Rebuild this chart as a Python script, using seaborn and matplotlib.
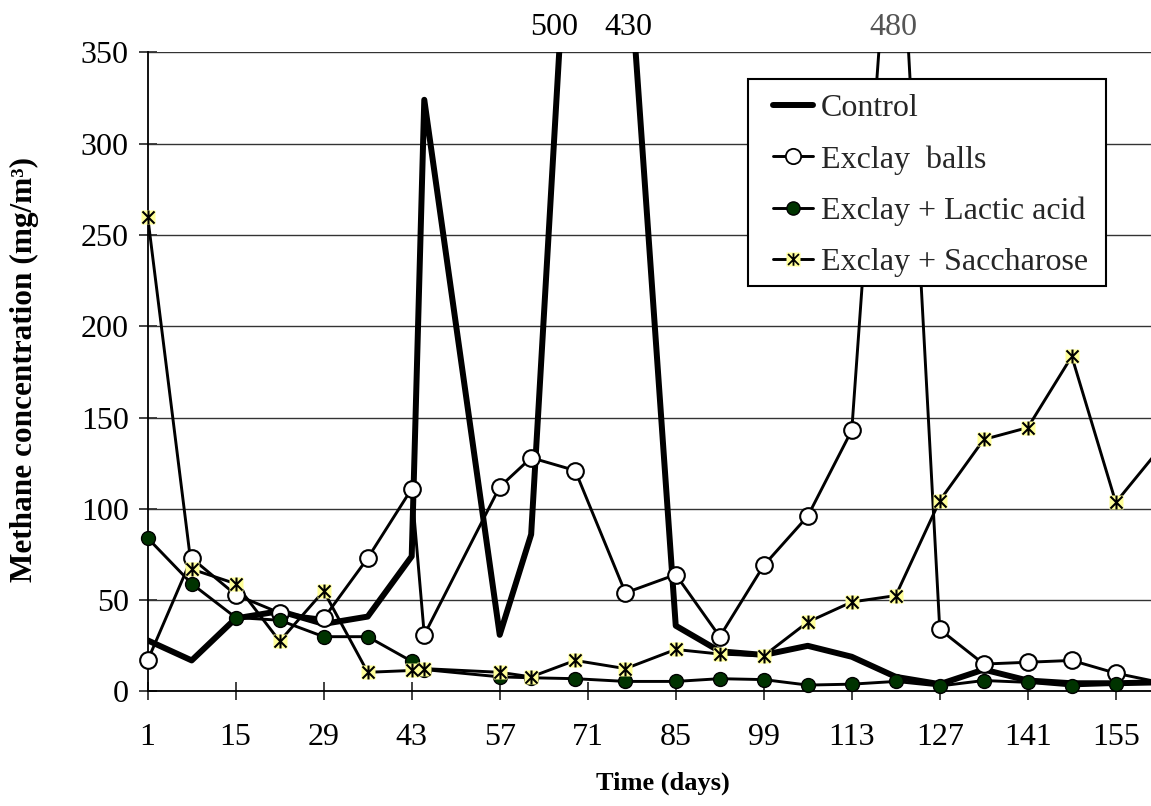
import numpy as np
import pandas as pd
import seaborn as sns
import matplotlib.pyplot as plt
from matplotlib.lines import Line2D
from matplotlib.patches import Rectangle
from matplotlib.path import Path

# Datos (mg/m3 de metano por día)
days = [1, 8, 15, 22, 29, 36, 43, 45, 57, 62, 69, 77, 85, 92, 99, 106,
        113, 120, 127, 134, 141, 148, 155, 162]
control = [28, 17, 40, 44, 37, 41, 74, 324, 31, 86, 500, 430, 36, 22, 20, 25,
           19, 8, 4, 12, 6, 4.5, 4.5, 5]
balls = [17, 73, 53, 43, 40, 73, 111, 31, 112, 128, 121, 54, 64, 30, 69, 96,
         143, 480, 34, 15, 16, 17, 10, 5]
lactic = [84, 59, 40.5, 39, 30, 30, 16.5, 12, 8, 7.5, 7, 5.5, 5.5, 7, 6.5, 3.5,
          4, 5.5, 3, 6, 5, 3, 4, 5]
sacch = [260, 67, 59, 27.5, 55, 10.5, 11.5, 12.5, 10.5, 8, 17, 12.5, 23, 20.5, 19.5, 38,
         49, 52.5, 104.5, 138, 144.5, 183.5, 103.5, 133]

series_names = ["Control", "Exclay  balls", "Exclay + Lactic acid", "Exclay + Saccharose"]
peak_labels = ["500", "430", "480"]
x_ticks = [1, 15, 29, 43, 57, 71, 85, 99, 113, 127, 141, 155]
y_ticks = [0, 50, 100, 150, 200, 250, 300, 350]

df = pd.DataFrame({"day": days, "control": control, "balls": balls,
                   "lactic": lactic, "sacch": sacch})

XMAX, YMAX = 160.6, 350
W, H = 1151, 806

sns.set_theme(style="white")
plt.rcParams["font.family"] = ["Liberation Serif", "DejaVu Serif"]

fig = plt.figure(figsize=(W / 100, H / 100), dpi=100)
ax = fig.add_axes([0.1283, 0.1421, 0.8717, 0.7930])

# estrella tipo Excel (X + barra vertical)
star = Path([(-1, -1), (1, 1), (-1, 1), (1, -1), (0, -1.15), (0, 1.15)],
            [Path.MOVETO, Path.LINETO, Path.MOVETO, Path.LINETO, Path.MOVETO, Path.LINETO])

green = "#003300"
yellow = "#ffff99"

# lineas
sns.lineplot(data=df, x="day", y="control", ax=ax, color="black", lw=4.3,
             estimator=None, errorbar=None, zorder=3)
for col in ["balls", "lactic", "sacch"]:
    sns.lineplot(data=df, x="day", y=col, ax=ax, color="black", lw=2.1,
                 estimator=None, errorbar=None, zorder=3)

# marcadores (sin recortar en el borde izquierdo)
def visible(col):
    return df[(df[col] <= YMAX) & (df["day"] <= XMAX)]

sns.lineplot(data=visible("balls"), x="day", y="balls", ax=ax, linestyle="", marker="o",
             markersize=12, markerfacecolor="white", markeredgecolor="black",
             markeredgewidth=1.5, estimator=None, errorbar=None, clip_on=False, zorder=4)
sns.lineplot(data=visible("lactic"), x="day", y="lactic", ax=ax, linestyle="", marker="o",
             markersize=10, markerfacecolor=green, markeredgecolor="black",
             markeredgewidth=1.0, estimator=None, errorbar=None, clip_on=False, zorder=4)
sns.lineplot(data=visible("sacch"), x="day", y="sacch", ax=ax, linestyle="", marker="s",
             markersize=10.5, markerfacecolor=yellow, markeredgecolor="none",
             estimator=None, errorbar=None, clip_on=False, zorder=5)
sns.lineplot(data=visible("sacch"), x="day", y="sacch", ax=ax, linestyle="", marker=star,
             markersize=10, markerfacecolor="none", markeredgecolor="black",
             markeredgewidth=1.5, estimator=None, errorbar=None, clip_on=False, zorder=6)

ax.set_xlim(1, XMAX)
ax.set_ylim(0, YMAX)
ax.set_xticks(x_ticks)
ax.set_yticks(y_ticks)
ax.yaxis.grid(True, color="#333333", lw=1.0)
ax.xaxis.grid(False)
for s in ["top", "right"]:
    ax.spines[s].set_visible(False)
for s in ["left", "bottom"]:
    ax.spines[s].set_color("black")
    ax.spines[s].set_linewidth(1.3)

ax.tick_params(axis="both", direction="inout", length=13, width=1.3, color="#333333",
               labelsize=23, labelcolor="black", bottom=True, left=True)
ax.tick_params(axis="x", pad=16)
ax.tick_params(axis="y", pad=7)

ax.set_xlabel("Time (days)", fontsize=19, fontweight="bold", color="black")
ax.set_ylabel("Methane concentration (mg/m³)", fontsize=22.5, fontweight="bold", color="black")
ax.xaxis.set_label_coords(0.513, -0.126)
ax.yaxis.set_label_coords(-0.108, 0.503)

# valores fuera de escala
fig.text(0.4813, 0.9566, peak_labels[0], ha="center", va="baseline", fontsize=23, color="black")
fig.text(0.5456, 0.9566, peak_labels[1], ha="center", va="baseline", fontsize=23, color="black")
fig.text(0.7758, 0.9566, peak_labels[2], ha="center", va="baseline", fontsize=23, color="#555555")

# marco de la leyenda
fig.patches.append(Rectangle((748 / W, 1 - 286 / H), (1106 - 748) / W, 207 / H,
                             transform=fig.transFigure, facecolor="white",
                             edgecolor="black", lw=1.5, zorder=9))

# leyenda
h_control = Line2D([], [], color="black", lw=4.3)
h_balls = Line2D([], [], color="black", lw=2.1, marker="o", markersize=11,
                 markerfacecolor="white", markeredgecolor="black", markeredgewidth=1.3)
h_lactic = Line2D([], [], color="black", lw=2.1, marker="o", markersize=9.5,
                  markerfacecolor=green, markeredgecolor="black", markeredgewidth=1.0)
h_sq = Line2D([], [], color="black", lw=2.1, marker="s", markersize=9.5,
              markerfacecolor=yellow, markeredgecolor="none")
h_st = Line2D([], [], linestyle="", marker=star, markersize=9, markerfacecolor="none",
              markeredgecolor="black", markeredgewidth=1.3)
leg = fig.legend([h_control, h_balls, h_lactic, (h_sq, h_st)], series_names,
                 loc="upper left", bbox_to_anchor=(773 / W, 1 - 94 / H), fontsize=23,
                 frameon=False, handlelength=1.25, handletextpad=0.25, labelspacing=0.68,
                 borderpad=0, borderaxespad=0, numpoints=1)
leg.set_zorder(10)

fig.savefig("out.png", dpi=100)
